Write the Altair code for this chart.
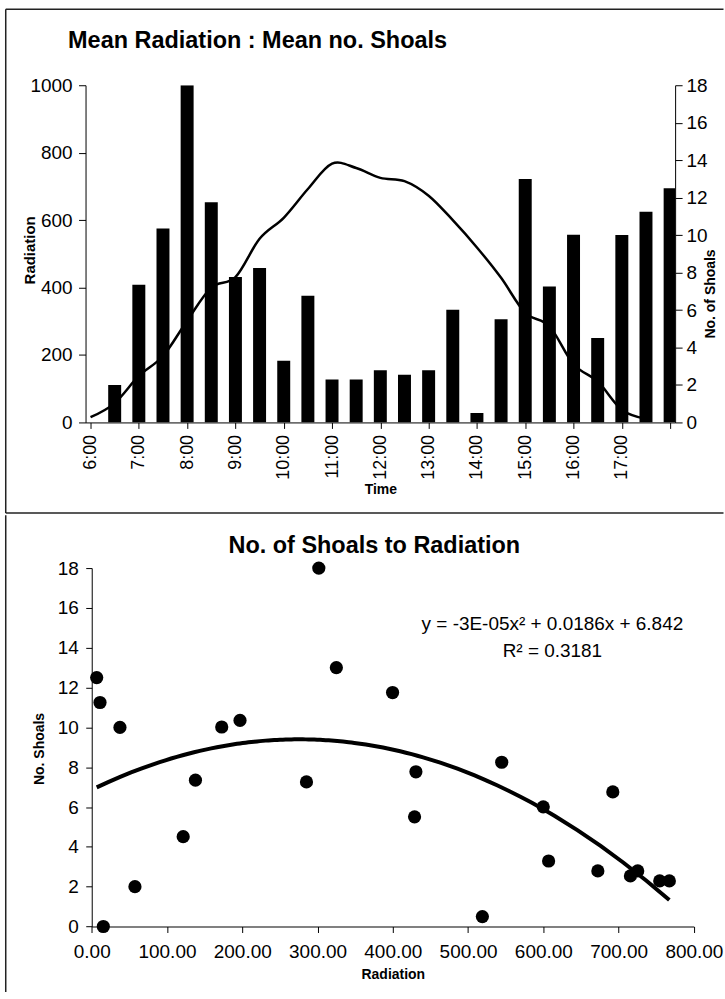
import altair as alt
import pandas as pd

# ---------------- data ----------------
time_labels = ["6:00", "6:30", "7:00", "7:30", "8:00", "8:30", "9:00", "9:30",
               "10:00", "10:30", "11:00", "11:30", "12:00", "12:30", "13:00",
               "13:30", "14:00", "14:30", "15:00", "15:30", "16:00", "16:30",
               "17:00", "17:30", "18:00"]
shoals = [0.0, 2.0, 7.35, 10.35, 18.0, 11.75, 7.77, 8.25, 3.29, 6.76, 2.29,
          2.29, 2.79, 2.54, 2.79, 6.01, 0.5, 5.51, 13.0, 7.26, 10.02, 4.51,
          10.0, 11.25, 12.5]
radiation = [15.4, 57.4, 137.8, 197.0, 301.7, 399.7, 430.7, 544.7, 607.0,
             692.3, 767.4, 754.6, 725.4, 715.7, 672.4, 599.9, 519.0, 428.9,
             325.0, 285.3, 172.7, 121.5, 37.5, 11.0, 6.6]

top_title = ["Mean Radiation : Mean no. Shoals"]
bottom_title = ["No. of Shoals to Radiation"]
equation_text = ["y = -3E-05x\u00b2 + 0.0186x + 6.842"]
r2_text = ["R\u00b2 = 0.3181"]

hours = [int(h) + int(m) / 60 for h, m in (s.split(":") for s in time_labels)]
df = pd.DataFrame({"t": hours, "label": time_labels,
                   "shoals": shoals, "rad": radiation})

FONT = "Liberation Sans"
INK = "black"
FRAME = "#222222"
one = pd.DataFrame({"k": [0]})


def frame_rule(x, x2, y, y2, cap="butt"):
    return alt.Chart(one).mark_rule(color=FRAME, strokeWidth=1.5, strokeCap=cap).encode(
        x=alt.value(x), x2=alt.value(x2), y=alt.value(y), y2=alt.value(y2))


def text_layer(values, x, y, size, weight="normal", align="center"):
    return alt.Chart(pd.DataFrame({"txt": values})).mark_text(
        align=align, baseline="alphabetic", font=FONT, fontSize=size,
        fontWeight=weight, color=INK).encode(
        x=alt.value(x), y=alt.value(y), text="txt:N")


# ---------------- top chart ----------------
W1, H1 = 591, 338

x_time = alt.X(
    "t:Q",
    scale=alt.Scale(domain=[6, 18], nice=False, zero=False),
    axis=alt.Axis(values=list(range(6, 19)),
                  labelExpr="datum.value < 18 ? datum.value + ':00' : ''",
                  labelAngle=270, labelFontSize=18, labelPadding=6,
                  labelOverlap=False, labelFlush=False, tickSize=6,
                  title="Time", titleFontSize=14, titleFontWeight="bold",
                  titleBaseline="alphabetic", titleY=71.4))

bars = alt.Chart(df).mark_bar(size=13, color=INK, clip=True).encode(
    x=x_time,
    y=alt.Y("shoals:Q", scale=alt.Scale(domain=[0, 18], nice=False),
            axis=alt.Axis(orient="right", values=list(range(0, 19, 2)),
                          format="d",
                          labelFontSize=19, labelPadding=4, tickSize=7,
                          labelOverlap=False, labelFlush=False,
                          title="No. of Shoals", titleFontSize=14,
                          titleFontWeight="bold", titleAngle=270,
                          titleAlign="center", titleBaseline="middle",
                          titleX=35, titleY=208.7)))

line = alt.Chart(df).transform_filter("datum.t <= 17.5").mark_line(
    color=INK, strokeWidth=2.5, interpolate="cardinal").encode(
    x=x_time,
    y=alt.Y("rad:Q", scale=alt.Scale(domain=[0, 1000], nice=False),
            axis=alt.Axis(orient="left", values=list(range(0, 1001, 200)),
                          format="d",
                          labelFontSize=19, labelPadding=6.5, tickSize=7,
                          labelOverlap=False, labelFlush=False,
                          title="Radiation", titleFontSize=15,
                          titleFontWeight="bold", titleAngle=270,
                          titleAlign="center", titleBaseline="middle",
                          titleX=-56.5, titleY=165)))

top = alt.layer(
    bars, line,
    text_layer(top_title, -17.5, -37.3, 23.5, "bold", "left"),
    frame_rule(-80, -80, -76.3, 428.7),
    frame_rule(-80, 639.5, -76.3, -76.3),
    frame_rule(-80, 639.5, 428.7, 428.7),
).resolve_scale(y="independent").properties(width=W1, height=H1)

# ---------------- bottom chart ----------------
W2, H2 = 610, 359.3

x_rad = alt.X("rad:Q",
              scale=alt.Scale(domain=[0, 800], range=[6.2, 609.8], nice=False),
              axis=alt.Axis(values=list(range(0, 801, 100)), format=".2f",
                            labelFontSize=19, labelPadding=10, tickSize=6,
                            labelOverlap=False, labelFlush=False,
                            title="Radiation", titleFontSize=14,
                            titleFontWeight="bold", titleBaseline="alphabetic",
                            titleY=52))
y_sh = alt.Y("shoals:Q", scale=alt.Scale(domain=[0, 18], nice=False),
             axis=alt.Axis(values=list(range(0, 19, 2)), offset=-6.2,
                           format="d",
                           labelFontSize=19, labelPadding=7.5, tickSize=6,
                           labelOverlap=False, labelFlush=False,
                           title="No. Shoals", titleFontSize=14,
                           titleFontWeight="bold", titleAngle=270,
                           titleAlign="center", titleBaseline="middle",
                           titleX=-52.7, titleY=180.8))

points = alt.Chart(df).mark_circle(size=175, color=INK, opacity=1).encode(
    x=x_rad, y=y_sh)

trend = alt.Chart(df).transform_regression(
    "rad", "shoals", method="poly", order=2).mark_line(
    color=INK, strokeWidth=4).encode(x=x_rad, y=y_sh)

bottom = alt.layer(
    trend, points,
    text_layer(bottom_title, 289.5, -15, 23.5, "bold", "center"),
    text_layer(equation_text, 468, 62.3, 19),
    text_layer(r2_text, 468, 89.3, 19),
    frame_rule(-80, -80, -52.2, 424.3, cap="square"),
).properties(width=W2, height=H2)

chart = alt.vconcat(top, bottom, spacing=0).properties(
    padding={"left": 3.75, "top": 6.25, "right": 0, "bottom": 0},
    background="white",
).configure_view(strokeWidth=0).configure_axis(
    labelFont=FONT, titleFont=FONT, labelColor=INK, titleColor=INK,
    domainColor=INK, tickColor=INK, domainWidth=1, tickWidth=1, grid=False)

chart.save("out.html", embed_options={"renderer": "svg", "actions": False})
